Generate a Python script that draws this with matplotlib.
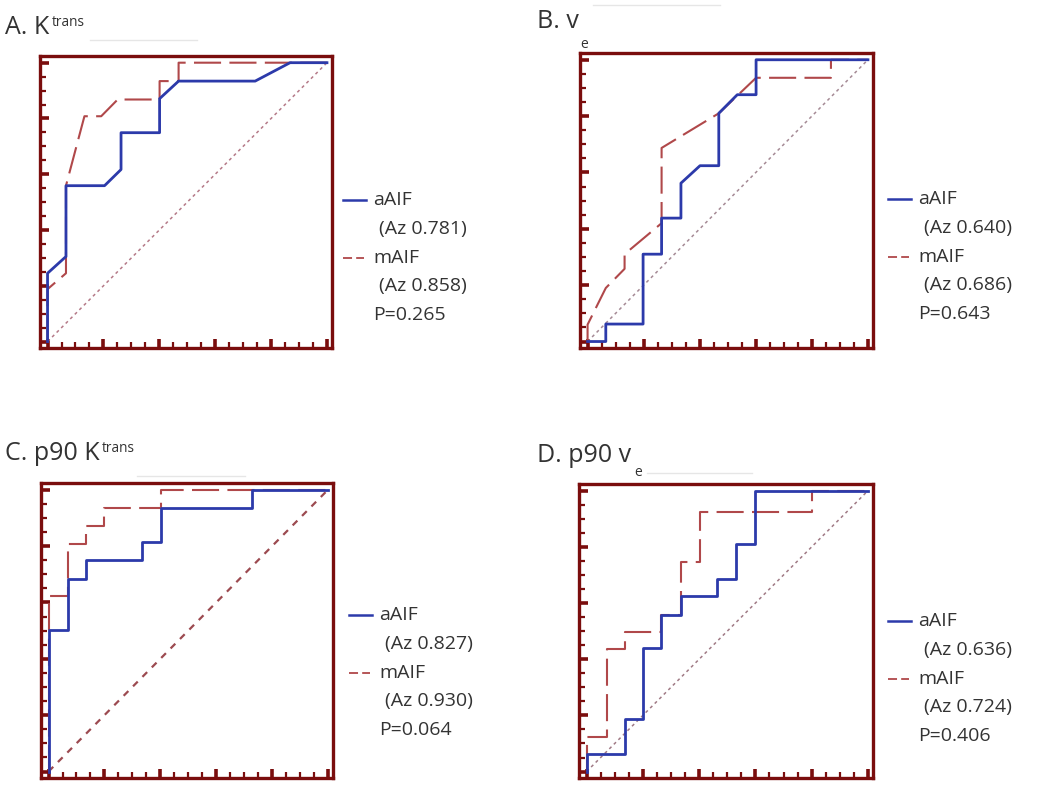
import matplotlib
matplotlib.use("Agg")
import matplotlib.pyplot as plt
from matplotlib.lines import Line2D
from matplotlib.text import Annotation
from matplotlib.ticker import MultipleLocator

# ---------------- data ----------------
panel_titles = ["A. K", "B. v", "C. p90 K", "D. p90 v"]
title_scripts = ["trans", "e", "trans", "e"]
script_kind = ["sup", "sub", "sup", "sub"]

A_a_x = [0, 0, 0.066, 0.066, 0.204, 0.263, 0.263, 0.401, 0.401, 0.469, 0.743, 0.868, 1.0]
A_a_y = [0, 0.245, 0.305, 0.559, 0.559, 0.617, 0.749, 0.749, 0.871, 0.934, 0.934, 1.0, 1.0]
A_m_x = [0, 0, 0.066, 0.066, 0.132, 0.192, 0.251, 0.401, 0.401, 0.469, 0.469, 1.0]
A_m_y = [0, 0.188, 0.245, 0.559, 0.808, 0.808, 0.868, 0.868, 0.934, 0.934, 1.0, 1.0]

B_a_x = [0, 0.065, 0.065, 0.198, 0.198, 0.264, 0.264, 0.333, 0.333, 0.401, 0.468, 0.468, 0.534, 0.601, 0.601, 1.0]
B_a_y = [0, 0, 0.062, 0.062, 0.31, 0.31, 0.438, 0.438, 0.562, 0.624, 0.624, 0.81, 0.876, 0.876, 1.0, 1.0]
B_m_x = [0, 0, 0.065, 0.132, 0.132, 0.264, 0.264, 0.468, 0.601, 0.868, 0.868, 1.0]
B_m_y = [0, 0.06, 0.19, 0.258, 0.31, 0.42, 0.687, 0.81, 0.936, 0.936, 1.0, 1.0]

C_a_x = [0, 0, 0.068, 0.068, 0.133, 0.133, 0.333, 0.333, 0.402, 0.402, 0.728, 0.728, 1.0]
C_a_y = [0, 0.502, 0.502, 0.683, 0.683, 0.749, 0.749, 0.813, 0.813, 0.937, 0.937, 1.0, 1.0]
C_m_x = [0, 0, 0.068, 0.068, 0.133, 0.133, 0.2, 0.2, 0.402, 0.402, 1.0]
C_m_y = [0, 0.623, 0.623, 0.807, 0.807, 0.87, 0.87, 0.937, 0.937, 1.0, 1.0]

D_a_x = [0, 0, 0.137, 0.137, 0.2, 0.2, 0.264, 0.264, 0.337, 0.337, 0.464, 0.464, 0.531, 0.531, 0.598, 0.598, 1.0]
D_a_y = [0, 0.063, 0.063, 0.187, 0.187, 0.439, 0.439, 0.558, 0.558, 0.624, 0.624, 0.685, 0.685, 0.812, 0.812, 1.0, 1.0]
D_m_x = [0, 0, 0.073, 0.073, 0.137, 0.137, 0.264, 0.264, 0.337, 0.337, 0.404, 0.404, 0.8, 0.8, 1.0]
D_m_y = [0, 0.124, 0.124, 0.436, 0.436, 0.497, 0.497, 0.558, 0.558, 0.745, 0.745, 0.925, 0.925, 1.0, 1.0]

az_aAIF = ["0.781", "0.640", "0.827", "0.636"]
az_mAIF = ["0.858", "0.686", "0.930", "0.724"]
p_values = ["0.265", "0.643", "0.064", "0.406"]

chance_x = [0, 1]
chance_y = [0, 1]

# ---------------- styling ----------------
W, H = 1050, 798
FRAME = "#7a0d0d"
BLUE = "#2c3aaa"
RED = "#b0484a"
DIAG = ["#b57a88", "#a58a95", "#9c4a50", "#a07a85"]
TEXT = "#333333"
FONT = "Open Sans"

fig = plt.figure(figsize=(W / 100, H / 100), dpi=100)
fig.patch.set_facecolor("white")

def fx(x):
    return x / W

def fy(y):
    return 1 - y / H

# axes boxes in pixels: left, top, right, bottom
boxes = [(40, 56, 332, 348), (580, 53, 873, 348), (41, 483, 333, 778), (579, 484, 873, 778)]
curves = [(A_a_x, A_a_y, A_m_x, A_m_y), (B_a_x, B_a_y, B_m_x, B_m_y),
          (C_a_x, C_a_y, C_m_x, C_m_y), (D_a_x, D_a_y, D_m_x, D_m_y)]
title_pos = [(5, 28), (537, 22), (5, 453), (537, 456)]
script_off = [(1.5, 0.5), (1.0, -7.0), (1.5, -0.5), (2.0, -2.6)]
legend_x = [343, 888, 349, 888]
legend_y0 = [200, 199, 615, 621]
faint_lines = [((90, 197), 40), ((593, 720), 5), ((137, 245), 476), ((647, 752), 473)]

for i in range(4):
    l, t, r, b = boxes[i]
    ax = fig.add_axes([fx(l), fy(b), fx(r - l), (b - t) / H])
    ax.set_xlim(-0.027, 1.018)
    ax.set_ylim(-0.023, 1.024)
    ax_x, ax_y, m_x, m_y = curves[i]
    dstyle = (0, (2, 2.2)) if i != 2 else (0, (3, 3))
    ax.plot(chance_x, chance_y, color=DIAG[i], lw=1.1 if i != 2 else 1.6, linestyle=dstyle)
    ax.plot(m_x, m_y, color=RED, lw=1.5, linestyle=(0, (13, 4)))
    ax.plot(ax_x, ax_y, color=BLUE, lw=2.0)
    for s in ax.spines.values():
        s.set_color(FRAME)
        s.set_linewidth(2.4)
    ax.xaxis.set_major_locator(MultipleLocator(0.2))
    ax.xaxis.set_minor_locator(MultipleLocator(0.05))
    ax.yaxis.set_major_locator(MultipleLocator(0.2))
    ax.yaxis.set_minor_locator(MultipleLocator(0.05))
    ax.tick_params(which="both", direction="in", color=FRAME, labelbottom=False, labelleft=False,
                   top=False, right=False)
    ax.tick_params(which="major", length=6.5, width=2.6)
    ax.tick_params(which="minor", length=4, width=1.6)

    # title
    tx, ty = title_pos[i]
    ttl = fig.text(fx(tx), fy(ty), panel_titles[i], fontsize=18, family=FONT, color=TEXT,
                   ha="left", va="center")
    ox, oy = script_off[i]
    if script_kind[i] == "sup":
        fig.add_artist(Annotation(
            title_scripts[i], xy=(1, 1), xycoords=ttl, xytext=(ox, oy), textcoords="offset points",
            fontsize=9.8, family=FONT, color=TEXT, ha="left", va="top"))
    else:
        fig.add_artist(Annotation(
            title_scripts[i], xy=(1, 0), xycoords=ttl, xytext=(ox, oy), textcoords="offset points",
            fontsize=10, family=FONT, color=TEXT, ha="left", va="center"))

    (fx0, fx1), fyy = faint_lines[i]
    fig.add_artist(Line2D([fx(fx0), fx(fx1)], [fy(fyy), fy(fyy)], color="#e6e6e6", lw=1))

    # legend block
    lx = legend_x[i]
    y0 = legend_y0[i]
    step = 28.8
    fig.add_artist(Line2D([fx(lx), fx(lx + 23)], [fy(y0), fy(y0)], color=BLUE, lw=1.8))
    fig.add_artist(Line2D([fx(lx), fx(lx + 21)], [fy(y0 + 2 * step), fy(y0 + 2 * step)], color=RED,
                          lw=1.3, linestyle=(0, (5, 2.3))))
    fs = 14
    fig.text(fx(lx + 30), fy(y0), "aAIF", fontsize=fs, family=FONT, color=TEXT, va="center")
    fig.text(fx(lx + 36), fy(y0 + step), f"(Az {az_aAIF[i]})", fontsize=fs, family=FONT, color=TEXT, va="center")
    fig.text(fx(lx + 30), fy(y0 + 2 * step), "mAIF", fontsize=fs, family=FONT, color=TEXT, va="center")
    fig.text(fx(lx + 36), fy(y0 + 3 * step), f"(Az {az_mAIF[i]})", fontsize=fs, family=FONT, color=TEXT, va="center")
    fig.text(fx(lx + 30), fy(y0 + 4 * step), f"P={p_values[i]}", fontsize=fs, family=FONT, color=TEXT, va="center")

fig.savefig("out.png", dpi=100, facecolor="white")
